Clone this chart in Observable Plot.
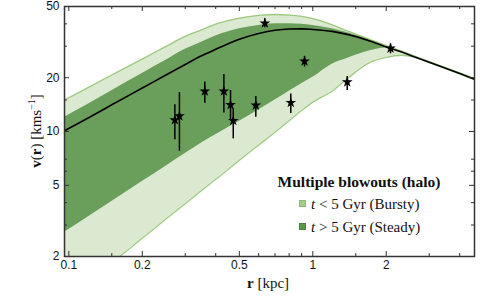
<!DOCTYPE html>
<html><head><meta charset="utf-8">
<script src="https://cdn.jsdelivr.net/npm/d3@7"></script>
<script src="https://cdn.jsdelivr.net/npm/@observablehq/plot@0.6"></script>
<style>
body{margin:0;background:#fff;}
#wrap{position:relative;width:500px;height:300px;overflow:hidden;}
.ser{position:absolute;font-family:"Liberation Serif","Times New Roman",serif;color:#111;white-space:nowrap;}
.sq{position:absolute;width:7px;height:7px;}
</style></head><body>
<div id="wrap"></div>
<script>
// radius grid (kpc)
const rGrid      = [0.096,0.12,0.15,0.2,0.25,0.3,0.35,0.4,0.5,0.6,0.7,0.8,0.9,1.0,1.2,1.4,1.7,2.0,2.3,2.6,3.0,3.5,4.0,4.6];
// mean curve (black)
const meanV      = [10.1,11.9,14.1,17.5,20.7,23.7,26.5,28.8,32.8,35.3,36.8,37.4,37.5,37.2,36.3,34.8,32.2,29.7,27.9,26.2,24.4,22.6,21.1,19.6];
// t < 5 Gyr (Bursty) envelope
const burstyHi   = [15.0,17.6,20.7,25.4,29.9,34.0,37.0,39.8,43.0,44.6,45.1,44.8,44.0,42.8,39.5,36.3,32.9,30.2,28.2,26.5,24.6,22.8,21.3,19.8];
const burstyLo   = [1.13,1.42,1.84,2.53,3.24,3.95,4.68,5.4,6.9,8.4,9.9,11.5,13.1,14.6,16.8,20.0,24.2,26.0,26.7,26.1,24.3,22.5,21.0,19.5];
// t > 5 Gyr (Steady) envelope
const steadyHi   = [12.0,14.2,16.9,21.1,25.0,28.8,31.6,34.2,37.5,39.2,40.0,40.1,39.8,39.2,37.6,35.6,32.6,29.8,27.9,26.2,24.4,22.6,21.1,19.6];
const steadyLo   = [2.73,3.33,4.06,5.25,6.40,7.53,8.63,9.6,11.4,13.2,15.0,16.8,18.5,20.1,23.8,25.8,28.2,29.3,27.8,26.2,24.4,22.6,21.1,19.6];
// observed points
const starR  = [0.272,0.284,0.361,0.432,0.460,0.472,0.584,0.8125,0.636,0.925,1.384,2.082];
const starV  = [11.6,12.2,16.8,16.8,14.1,11.5,14.0,14.5,40.3,24.7,18.9,29.2];
const starLo = [8.98,7.76,14.4,12.7,11.5,9.10,12.0,12.6,38.0,22.9,16.95,27.2];
const starHi = [14.1,16.5,18.9,20.8,16.95,13.4,15.7,16.2,42.7,26.3,20.3,30.9];
// ticks
const xMajor = [0.1,0.2,0.5,1,2];
const xMinor = [0.15,0.3,0.4,0.6,0.7,0.8,0.9,1.5,3,4];
const yMajor = [2,5,10,20,50];
const yMinor = [3,4,6,7,15,30,40];

const curves = rGrid.map((r,i)=>({r, mean:meanV[i], bHi:burstyHi[i], bLo:burstyLo[i], sHi:steadyHi[i], sLo:steadyLo[i]}));
const stars = starR.map((r,i)=>({r, v:starV[i], lo:starLo[i], hi:starHi[i]}));

const W=500,H=300,mL=64,mR=26,mT=6,mB=44;
const iW=W-mL-mR, iH=H-mT-mB;
const tickCol="#333";
const cv="monotone-x";

const chart = Plot.plot({
  width:W,height:H,marginLeft:mL,marginRight:mR,marginTop:mT,marginBottom:mB,
  x:{type:"log",domain:[0.096,4.6]},
  y:{type:"log",domain:[2,50]},
  style:{fontFamily:"'Liberation Sans',Arial,sans-serif",fontSize:"12px",color:"#111",background:"transparent"},
  marks:[
    Plot.areaY(curves,{x:"r",y1:"bLo",y2:"bHi",fill:"#dce9d1",curve:cv,clip:true}),
    Plot.lineY(curves,{x:"r",y:"bHi",stroke:"#9dca82",strokeWidth:1.3,curve:cv,clip:true}),
    Plot.lineY(curves,{x:"r",y:"bLo",stroke:"#9dca82",strokeWidth:1.3,curve:cv,clip:true}),
    Plot.areaY(curves,{x:"r",y1:"sLo",y2:"sHi",fill:"#6a9e5b",curve:cv,clip:true}),
    Plot.lineY(curves,{x:"r",y:"mean",stroke:"#000",strokeWidth:1.6,curve:cv,clip:true}),
    Plot.ruleX(stars,{x:"r",y1:"lo",y2:"hi",stroke:"#000",strokeWidth:1.5}),
    Plot.dot(stars,{x:"r",y:"v",symbol:"star",fill:"#000",r:3.4}),
    // inward ticks
    Plot.ruleX(xMajor,{x:d=>d,insetTop:iH-5,stroke:tickCol}),
    Plot.ruleX(xMajor,{x:d=>d,insetBottom:iH-5,stroke:tickCol}),
    Plot.ruleX(xMinor,{x:d=>d,insetTop:iH-3,stroke:tickCol}),
    Plot.ruleX(xMinor,{x:d=>d,insetBottom:iH-3,stroke:tickCol}),
    Plot.ruleY(yMajor,{y:d=>d,insetRight:iW-5,stroke:tickCol}),
    Plot.ruleY(yMajor,{y:d=>d,insetLeft:iW-5,stroke:tickCol}),
    Plot.ruleY(yMinor,{y:d=>d,insetRight:iW-3,stroke:tickCol}),
    Plot.ruleY(yMinor,{y:d=>d,insetLeft:iW-3,stroke:tickCol}),
    Plot.frame({stroke:"#333",strokeWidth:1.5}),
    Plot.axisX({ticks:xMajor,tickSize:0,tickPadding:4,tickFormat:d=>String(d),label:null}),
    Plot.axisY({ticks:yMajor,tickSize:0,tickPadding:5,tickFormat:d=>String(d),label:null})
  ]
});
const wrap=document.getElementById("wrap");
wrap.appendChild(chart);

function add(html, css, cls){const d=document.createElement("div");d.className=cls||"ser";d.innerHTML=html;Object.assign(d.style,css);wrap.appendChild(d);return d;}
// axis labels
add('<b>v</b>(<b>r</b>) [kms<sup style="font-size:10px">−1</sup>]',{left:"35px",top:"131px",fontSize:"15px",transform:"translate(-50%,-50%) rotate(-90deg)"});
add('<b>r</b> [kpc]',{left:"268px",top:"283px",fontSize:"15px",transform:"translate(-50%,-50%)"});
// legend
add('<b>Multiple blowouts (halo)</b>',{left:"359px",top:"182px",fontSize:"15.5px",transform:"translate(-50%,-50%)"});
add('',{left:"299px",top:"200px",background:"#a3cd8a",border:"1px solid #8bb872",boxSizing:"border-box"},"sq");
add('',{left:"299px",top:"223px",background:"#5f9450",border:"1px solid #4f8242",boxSizing:"border-box"},"sq");
add('<i>t</i> &lt; 5 Gyr (Bursty)',{left:"311px",top:"204px",fontSize:"15px",transform:"translateY(-50%)"});
add('<i>t</i> &gt; 5 Gyr (Steady)',{left:"311px",top:"227px",fontSize:"15px",transform:"translateY(-50%)"});
</script>
</body></html>
